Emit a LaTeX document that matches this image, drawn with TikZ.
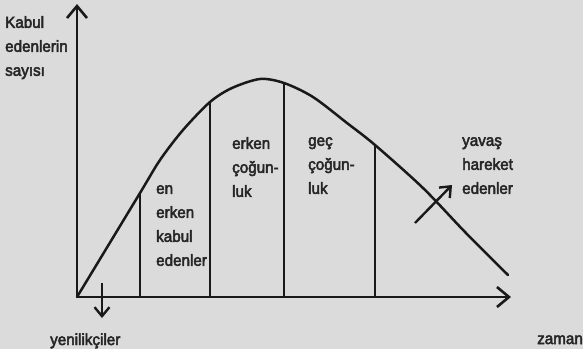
\documentclass[tikz,border=0pt]{standalone}
\usepackage{fontspec}
\setmainfont{Liberation Sans}[FakeStretch=0.95, FakeBold=3]
\usetikzlibrary{arrows.meta}
\definecolor{paper}{gray}{0.86}
\colorlet{ink}{black!90}
\colorlet{inktext}{black!85}
\tikzstyle{axis}=[draw=ink, line width=2.6pt, -{Straight Barb[length=12pt, width=20pt]}]
\tikzstyle{pointer}=[draw=ink, line width=2.4pt, -{Straight Barb[length=9pt, width=15pt]}]
\tikzstyle{curve}=[draw=ink, line width=2.5pt, line cap=round]
\tikzstyle{divider}=[draw=ink, line width=2.2pt]
\tikzstyle{txt}=[inner sep=0pt, anchor=north west, align=left, text=inktext,
  font=\fontsize{16}{24}\selectfont, execute at begin node=\strut]

\begin{document}
\begin{tikzpicture}[x=1pt, y=-1pt]
  \fill[paper] (0,0) rectangle (583,349);
  \useasboundingbox (0,0) rectangle (583,349);

  % Axes
  \coordinate (o) at (77,297);
  \coordinate (ytop) at (77,4);
  \coordinate (xend) at (511,297);
  \draw[axis] (o) -- (ytop);
  \draw[axis] (o) -- (xend);

  % Adoption curve
  \foreach \n/\x/\y in {c0/77/297, d1/140/193, c1/160/160, c2/183/130, d2/210/102,
                        c3/232/88, c4/260/79, d3/284/83, c5/313/97, c6/347/123,
                        d4/375/145, c7/423/188, c8/465/232, c9/508/275}{
    \coordinate (\n) at (\x,\y);
  }
  \draw[curve] plot[smooth, tension=0.5] coordinates {(c0) (d1) (c1) (c2) (d2) (c3) (c4)
    (d3) (c5) (c6) (d4) (c7) (c8) (c9)};

  \foreach \d in {d1, d2, d3, d4}{ \draw[divider] (\d) -- (\d |- o); }

  % Arrows
  \coordinate (inn1) at (102,283);
  \coordinate (inn2) at (102,318);
  \draw[pointer] (inn1) -- (inn2);
  \coordinate (slow1) at (415,223);
  \coordinate (slow2) at (452,185);
  \draw[pointer] (slow1) -- (slow2);

  % Labels
  \node[txt] (ylab)  at (5,16)    {Kabul\\edenlerin\\sayısı};
  \node[txt] (early) at (156,185) {en\\erken\\kabul\\edenler};
  \node[txt] (emaj)  at (232,137) {erken\\çoğun-\\luk};
  \node[txt] (lmaj)  at (308,137) {geç\\çoğun-\\luk};
  \node[txt] (slow)  at (462,137) {yavaş\\hareket\\edenler};
  \node[txt] (inn)   at (50,328)  {yenilikçiler};
  \node[txt] (xlab)  at (537,327) {zaman};
\end{tikzpicture}
\end{document}
